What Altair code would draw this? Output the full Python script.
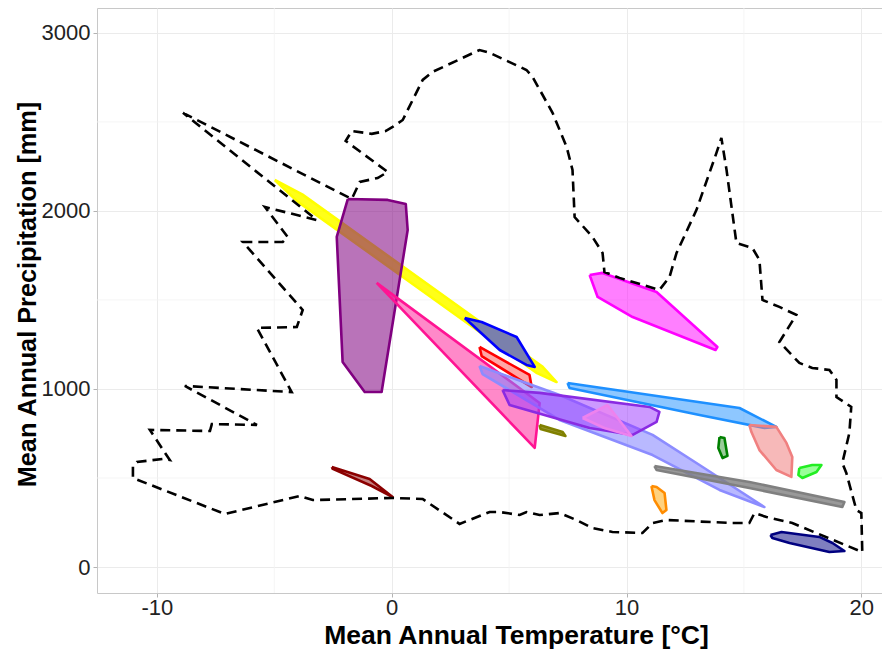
import altair as alt
import pandas as pd

# ---------------- data ----------------
# dashed climate envelope (Mean annual temperature, precipitation)
outline_T = [-8.89, -1.70, -1.36, -0.60, -0.17, -1.96, -1.70, -0.85, -0.26, 0.04,
             0.47, 1.32, 1.74, 3.74, 4.17, 5.74, 6.00, 6.85, 7.45, 7.70,
             7.79, 8.55, 8.98, 9.06, 9.70, 11.40, 11.83, 12.13, 12.98, 13.83,
             14.04, 14.26, 14.68, 15.36, 15.66, 15.79, 16.51, 17.23, 16.51, 17.36,
             17.91, 18.64, 18.94, 18.94, 19.57, 19.49, 19.19, 19.36, 19.79, 20.00,
             20.04, 17.06, 15.96, 15.45, 15.23, 14.51, 11.70, 11.11, 10.68, 9.40,
             8.55, 7.87, 7.15, 6.30, 5.74, 5.45, 4.60, 4.17, 2.89, 1.32,
             0.04, -3.36, -3.91, -7.11, -11.02, -11.02, -10.85, -9.74, -9.45, -10.30,
             -7.74, -7.66, -5.74, -8.81, -4.26, -5.74, -4.04, -3.79, -6.34, -4.64,
             -4.43, -5.40, -3.19]
outline_P = [2551, 2067, 2163, 2185, 2219, 2393, 2449, 2433, 2449, 2472,
             2511, 2736, 2781, 2904, 2888, 2792, 2753, 2551, 2360, 2230,
             1966, 1854, 1764, 1657, 1624, 1556, 1629, 1764, 2006, 2326,
             2410, 2230, 1820, 1792, 1725, 1500, 1461, 1416, 1264, 1146,
             1118, 1107, 1051, 955, 899, 753, 584, 528, 320, 303,
             84, 247, 281, 303, 247, 247, 264, 247, 191, 197,
             219, 264, 303, 292, 309, 292, 309, 309, 242, 382,
             388, 376, 399, 298, 500, 567, 590, 607, 601, 770,
             764, 803, 798, 1017, 983, 1343, 1348, 1444, 1826, 1826,
             1854, 2022, 1949]

yellow_T = [-4.98, -3.81, 6.40, 7.02, 6.19, -4.02]
yellow_P = [2174, 2093, 1128, 1039, 1089, 2054]

purple_T = [-1.87, -0.17, 0.60, 0.68, -0.43, -1.15, -2.09, -2.34]
purple_P = [2067, 2062, 2039, 1893, 983, 983, 1152, 1854]

deeppink_T = [-0.64, 6.30, 6.09]
deeppink_P = [1596, 921, 669]

blue_T = [3.11, 3.83, 5.32, 6.09, 5.74, 4.60]
blue_P = [1399, 1376, 1292, 1124, 1135, 1219]

red_T = [3.74, 5.87, 5.96, 3.83]
red_P = [1236, 1079, 1011, 1185]

lavender_T = [3.74, 7.15, 11.11, 13.11, 15.87, 13.96, 11.11, 7.15, 3.87]
lavender_P = [1129, 966, 742, 573, 337, 433, 629, 826, 1084]

violet_T = [4.72, 6.30, 10.98, 11.40, 11.28, 10.26, 8.43, 5.02]
violet_P = [994, 978, 899, 871, 815, 742, 781, 910]

orchid_T = [8.13, 9.19, 10.21, 9.06]
orchid_P = [837, 910, 736, 781]

olive_T = [6.30, 7.28, 7.40, 6.34]
olive_P = [798, 758, 736, 775]

dodger_T = [7.49, 14.81, 16.38, 15.87, 13.11, 7.57]
dodger_P = [1034, 893, 787, 781, 854, 1006]

coral_T = [15.23, 16.38, 16.81, 17.06, 17.02, 16.38, 15.66, 15.32]
coral_P = [798, 787, 697, 618, 506, 545, 657, 758]

green_T = [13.96, 14.17, 14.30, 14.09, 13.91]
green_P = [730, 725, 624, 612, 669]

lime_T = [17.36, 17.91, 18.30, 18.09, 17.49, 17.32]
lime_P = [556, 573, 573, 534, 500, 517]

grey_T = [11.19, 15.23, 19.28, 19.19, 15.23, 11.28]
grey_P = [567, 478, 365, 337, 444, 545]

orange_T = [11.06, 11.28, 11.62, 11.70, 11.53, 11.19]
orange_P = [455, 449, 416, 320, 303, 376]

navy_T = [16.13, 16.60, 18.21, 18.77, 19.28, 18.64, 16.94, 16.21]
navy_P = [180, 197, 169, 135, 90, 84, 135, 163]

magenta_T = [8.43, 8.98, 11.28, 13.87, 13.79, 10.26, 8.77]
magenta_P = [1640, 1652, 1545, 1236, 1219, 1404, 1517]

darkred_T = [-2.55, -0.94, 0.04, -0.85, -2.51]
darkred_P = [562, 494, 393, 455, 551]

x_ticks = [-10, 0, 10, 20]
y_ticks = [0, 1000, 2000, 3000]
x_minor = [-5, 5, 15]
y_minor = [500, 1500, 2500]

assert len(outline_T) == len(outline_P)

# ---------------- styling ----------------
# (name, T, P, stroke, fill, fillOpacity)
shapes = [
    ("yellow", yellow_T, yellow_P, "#ffff00", "#ffff00", 0.9),
    ("purple", purple_T, purple_P, "#800080", "#800080", 0.55),
    ("deeppink", deeppink_T, deeppink_P, "#ff1493", "#ff1493", 0.5),
    ("blue", blue_T, blue_P, "#0000ff", "#7a80ac", 1.0),
    ("red", red_T, red_P, "#ff0000", "#ff0000", 0.35),
    ("lavender", lavender_T, lavender_P, "#8c8cff", "#8080ff", 0.55),
    ("violet", violet_T, violet_P, "#8a2be2", "#9933ff", 0.5),
    ("orchid", orchid_T, orchid_P, "#ee82ee", "#ee82ee", 0.7),
    ("olive", olive_T, olive_P, "#808000", "#808000", 0.8),
    ("dodger", dodger_T, dodger_P, "#1e90ff", "#1e90ff", 0.5),
    ("coral", coral_T, coral_P, "#f08080", "#f08080", 0.55),
    ("green", green_T, green_P, "#008000", "#008000", 0.4),
    ("lime", lime_T, lime_P, "#22ee22", "#33ff33", 0.5),
    ("grey", grey_T, grey_P, "#808080", "#808080", 0.8),
    ("orange", orange_T, orange_P, "#ff8c00", "#ffa500", 0.5),
    ("navy", navy_T, navy_P, "#000080", "#000080", 0.5),
    ("magenta", magenta_T, magenta_P, "#ff00ff", "#ff00ff", 0.5),
    ("darkred", darkred_T, darkred_P, "#8b0000", "#8b0000", 0.5),
]

X_DOMAIN = [-12.55, 20.88]
Y_DOMAIN = [-146, 3140]
FONT = "Liberation Sans"

x_axis = alt.Axis(values=x_ticks, labelExpr="'' + datum.value",
                  title="Mean Annual Temperature [°C]",
                  grid=True, gridColor="#ebebeb", gridWidth=1,
                  domain=False, tickColor="#b3b3b3", tickSize=4,
                  labelFont=FONT, labelFontSize=22, labelColor="#222222",
                  labelPadding=0, labelFlush=False,
                  titleFont=FONT, titleFontSize=26.5, titleFontWeight="bold",
                  titleColor="black", titleX=419, titleY=50,
                  titleBaseline="alphabetic")
y_axis = alt.Axis(values=y_ticks, labelExpr="'' + datum.value",
                  title="Mean Annual Precipitation [mm]",
                  grid=True, gridColor="#ebebeb", gridWidth=1,
                  domain=False, tickColor="#b3b3b3", tickSize=4,
                  labelFont=FONT, labelFontSize=22, labelColor="#222222",
                  labelPadding=3, labelFlush=False,
                  titleFont=FONT, titleFontSize=25.3, titleFontWeight="bold",
                  titleColor="black", titleX=-70, titleY=286,
                  titleAngle=-90, titleBaseline="middle")

x_enc = alt.X("T:Q", scale=alt.Scale(domain=X_DOMAIN, nice=False, zero=False), axis=x_axis)
y_enc = alt.Y("P:Q", scale=alt.Scale(domain=Y_DOMAIN, nice=False, zero=False), axis=y_axis)


def poly_df(T, P):
    T2 = list(T) + [T[0]]
    P2 = list(P) + [P[0]]
    return pd.DataFrame({"T": T2, "P": P2, "i": list(range(len(T2)))})


layers = []
layers.append(alt.Chart(pd.DataFrame({"T": x_minor})).mark_rule(
    color="#f3f3f3", strokeWidth=0.8).encode(x=x_enc))
layers.append(alt.Chart(pd.DataFrame({"P": y_minor})).mark_rule(
    color="#f3f3f3", strokeWidth=0.8).encode(y=y_enc))

for name, T, P, stroke, fill, fop in shapes:
    layers.append(
        alt.Chart(poly_df(T, P)).mark_line(
            stroke=stroke, strokeWidth=2.6, fill=fill, fillOpacity=fop,
            strokeJoin="round"
        ).encode(x=x_enc, y=y_enc, order="i:Q")
    )

outline = pd.DataFrame({"T": outline_T + [outline_T[0]],
                        "P": outline_P + [outline_P[0]],
                        "i": list(range(len(outline_T) + 1))})
layers.append(
    alt.Chart(outline).mark_line(
        stroke="black", strokeWidth=2.6, strokeDash=[10, 6]
    ).encode(x=x_enc, y=y_enc, order="i:Q")
)

chart = alt.layer(*layers).properties(
    width=785, height=585,
    autosize=alt.AutoSizeParams(type="none"),
    padding={"left": 89, "top": 0, "right": 0, "bottom": 60},
).configure_view(stroke="#c8c8c8", strokeWidth=1)

chart.save("out.html", embed_options={"renderer": "svg", "actions": False})
